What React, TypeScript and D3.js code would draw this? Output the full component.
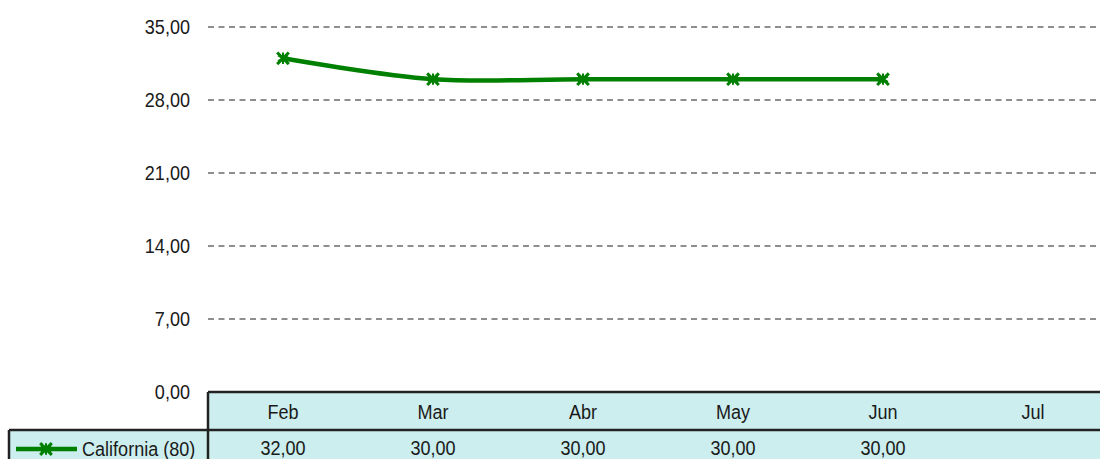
import React from 'react';
import * as d3 from 'd3';

const months = ['Feb', 'Mar', 'Abr', 'May', 'Jun', 'Jul'];
const california: (number | null)[] = [32, 30, 30, 30, 30, null];
const seriesName = 'California (80)';
const yTicks = [0, 7, 14, 21, 28, 35];

const fmt = (v: number) => v.toFixed(2).replace('.', ',');
const font = "'Liberation Sans', Arial, sans-serif";
const green = '#008000';
const cyan = '#CCEEEE';
const ink = '#1a1a1a';

// condensed text: the original uses a narrow face, so squeeze a regular one
function Label(props: {x: number, y: number, anchor?: string, children: any}) {
  return (
    <g transform={`translate(${props.x},${props.y}) scale(0.86,1)`}>
      <text dy="0.36em" textAnchor={props.anchor || 'start'} fontSize={21} fill={ink}>
        {props.children}
      </text>
    </g>
  );
}

export default function App() {
  const width = 1100, height = 459;
  const plot = {left: 208, right: 1108, top: 27, bottom: 392};
  const headerBottom = 430;

  const x = d3.scaleBand().domain(months).range([plot.left, plot.right]);
  const y = d3.scaleLinear().domain([0, 35]).range([plot.bottom, plot.top]);
  const cx = (m: string) => (x(m) || 0) + x.bandwidth() / 2;

  const pts = months
    .map((m, i) => ({m, v: california[i]}))
    .filter(d => d.v != null) as {m: string, v: number}[];

  const line = d3.line<{m: string, v: number}>()
    .x(d => cx(d.m))
    .y(d => y(d.v))
    .curve(d3.curveCatmullRom.alpha(0.5));

  const star = d3.symbol().type(d3.symbolAsterisk).size(90)() || '';
  const cross = d3.symbol().type(d3.symbolTimes).size(90)() || '';

  const marker = (key: string, tx: number, ty: number) => (
    <g key={key} transform={`translate(${tx},${ty})`} fill="none" stroke={green}>
      <path d={cross} strokeWidth={3} />
      <path d={star} strokeWidth={2} />
    </g>
  );

  return (
    <svg width={width} height={height} style={{position: 'absolute', left: 0, top: 0}}
      fontFamily={font}>
      <rect width={width} height={height} fill="#fff" />
      {yTicks.map(t => (
        <g key={t}>
          {t > 0 && (
            <line x1={plot.left} x2={width} y1={y(t)} y2={y(t)}
              stroke="#6a6a6a" strokeWidth={1.5} strokeDasharray="6,4.5" />
          )}
          <Label x={190} y={y(t) - 1} anchor="end">{fmt(t)}</Label>
        </g>
      ))}

      {/* data table */}
      <rect x={plot.left} y={plot.bottom} width={width - plot.left} height={height - plot.bottom} fill={cyan} />
      <rect x={9} y={headerBottom} width={plot.left - 9} height={height - headerBottom} fill={cyan} />
      <line x1={plot.left} x2={width} y1={plot.bottom} y2={plot.bottom} stroke="#222" strokeWidth={2.5} />
      <line x1={9} x2={width} y1={headerBottom} y2={headerBottom} stroke="#222" strokeWidth={2.5} />
      <line x1={plot.left} x2={plot.left} y1={plot.bottom} y2={height} stroke="#222" strokeWidth={2.5} />
      <line x1={9} x2={9} y1={headerBottom} y2={height} stroke="#222" strokeWidth={2.5} />
      {months.map((m, i) => (
        <g key={m}>
          <Label x={cx(m)} y={411} anchor="middle">{m}</Label>
          {california[i] != null && (
            <Label x={cx(m)} y={447} anchor="middle">{fmt(california[i] as number)}</Label>
          )}
        </g>
      ))}
      <line x1={16} x2={77} y1={449} y2={449} stroke={green} strokeWidth={4.5} />
      {marker('legend', 46, 449)}
      <Label x={82} y={448}>{seriesName}</Label>

      {/* series */}
      <path d={line(pts) || ''} fill="none" stroke={green} strokeWidth={4.5} />
      {pts.map(d => marker(d.m, cx(d.m), y(d.v)))}
    </svg>
  );
}
